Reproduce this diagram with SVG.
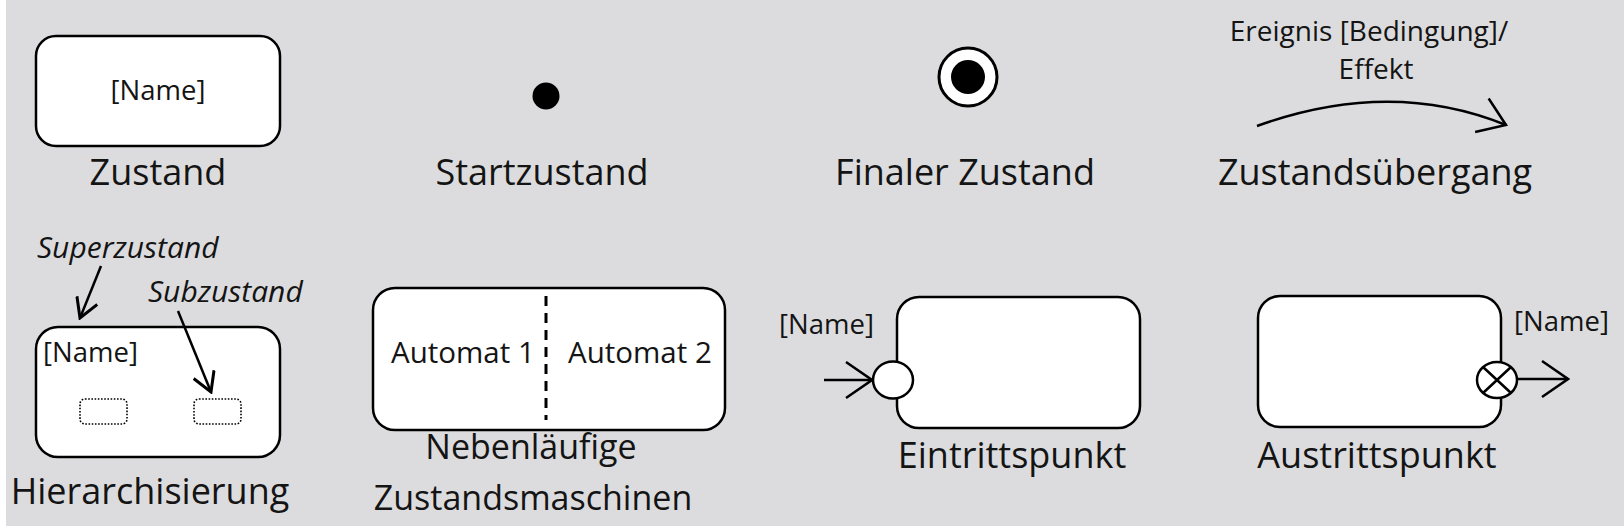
<svg xmlns="http://www.w3.org/2000/svg" width="1624" height="530" viewBox="0 0 1624 530">
<style>
.bg{fill:#dcdcde}
.box{fill:#fff;stroke:#000;stroke-width:2.5}
.sub{fill:#fff;stroke:#000;stroke-width:1.6;stroke-dasharray:1.6 1.6}
.lbl{font-family:"Open Sans","Noto Sans","DejaVu Sans",sans-serif;font-size:36px;fill:#141414}
.lbl2{font-family:"Open Sans","Noto Sans","DejaVu Sans",sans-serif;font-size:34px;fill:#141414}
.in{font-family:"Open Sans","Noto Sans","DejaVu Sans",sans-serif;font-size:27.5px;fill:#141414}
.au{font-family:"Open Sans","Noto Sans","DejaVu Sans",sans-serif;font-size:29.5px;fill:#141414}
.ev{font-family:"Open Sans","Noto Sans","DejaVu Sans",sans-serif;font-size:28px;fill:#141414}
.it{font-family:"Open Sans","Noto Sans","DejaVu Sans",sans-serif;font-size:30px;font-style:italic;fill:#141414}
.ln{fill:none;stroke:#000;stroke-width:2.5}
</style>
<defs>
<marker id="big" viewBox="0 0 30 40" refX="28" refY="20" markerWidth="30" markerHeight="40" markerUnits="userSpaceOnUse" orient="auto">
<path d="M2,2 L28,20 L2,38" fill="none" stroke="#000" stroke-width="2.5"/>
</marker>
<marker id="small" viewBox="0 0 22 24" refX="20" refY="12" markerWidth="22" markerHeight="24" markerUnits="userSpaceOnUse" orient="auto">
<path d="M1,1 L20,12 L1,23" fill="none" stroke="#000" stroke-width="3"/>
</marker>
</defs>
<rect x="0" y="0" width="1624" height="530" fill="#fff"/>
<rect class="bg" x="6" y="0" width="1618" height="526"/>

<g id="zustand">
<rect class="box" x="36" y="36" width="244" height="110" rx="20"/>
<text class="in" x="158" y="100" text-anchor="middle">[Name]</text>
<text class="lbl" x="158" y="185" text-anchor="middle">Zustand</text>
</g>

<g id="startzustand">
<circle cx="546" cy="96" r="13.5" fill="#000"/>
<text class="lbl" x="542" y="185" text-anchor="middle">Startzustand</text>
</g>

<g id="finaler-zustand">
<circle cx="968" cy="77" r="29" fill="#fff" stroke="#000" stroke-width="3"/>
<circle cx="968" cy="77" r="17" fill="#000"/>
<text class="lbl" x="965" y="185" text-anchor="middle">Finaler Zustand</text>
</g>

<g id="zustandsuebergang">
<text class="ev" x="1369" y="41" text-anchor="middle">Ereignis [Bedingung]/</text>
<text class="ev" x="1376" y="79" text-anchor="middle">Effekt</text>
<text class="lbl" x="1375" y="185" text-anchor="middle">Zustandsübergang</text>
</g>

<g id="hierarchisierung">
<rect class="box" x="36" y="327" width="244" height="130" rx="22"/>
<text class="in" x="43" y="362">[Name]</text>
<rect class="sub" x="80" y="399" width="47" height="25" rx="5"/>
<rect class="sub" x="194" y="399" width="47" height="25" rx="5"/>
<text class="it" x="37" y="258">Superzustand</text>
<text class="it" x="148" y="302">Subzustand</text>
<text class="lbl" x="150" y="504" text-anchor="middle">Hierarchisierung</text>
</g>

<g id="nebenlaeufig">
<rect class="box" x="373" y="288" width="352" height="142" rx="22"/>
<line x1="546" y1="296" x2="546" y2="420" stroke="#000" stroke-width="3" stroke-dasharray="10 7"/>
<text class="au" x="391" y="363">Automat 1</text>
<text class="au" x="568" y="363">Automat 2</text>
<text class="lbl2" x="531" y="459" text-anchor="middle">Nebenläufige</text>
<text class="lbl2" x="533" y="510" text-anchor="middle">Zustandsmaschinen</text>
</g>

<g id="eintrittspunkt">
<rect class="box" x="897" y="297" width="243" height="131" rx="22"/>
<ellipse cx="893" cy="380" rx="20" ry="18.5" fill="#fff" stroke="#000" stroke-width="2.5"/>
<text class="in" x="779" y="334">[Name]</text>
<text class="lbl" x="1012" y="468" text-anchor="middle">Eintrittspunkt</text>
</g>

<g id="austrittspunkt">
<rect class="box" x="1258" y="296" width="243" height="131" rx="22"/>
<ellipse cx="1497" cy="380" rx="20" ry="18" fill="#fff" stroke="#000" stroke-width="2.5"/>
<path d="M1483,367 L1511,393 M1511,367 L1483,393" stroke="#000" stroke-width="2.5"/>
<text class="in" x="1514" y="331">[Name]</text>
<text class="lbl" x="1377" y="468" text-anchor="middle">Austrittspunkt</text>
</g>

<g id="connectors">
<path class="ln" d="M1257,126 Q1390,78 1506,125" marker-end="url(#big)"/>
<path class="ln" d="M101,266 L80,318" marker-end="url(#small)"/>
<path class="ln" d="M178,311 L211,392" marker-end="url(#small)"/>
<path class="ln" d="M824,380 L872,380" marker-end="url(#big)"/>
<path class="ln" d="M1517,379 L1568,379" marker-end="url(#big)"/>
</g>
</svg>
